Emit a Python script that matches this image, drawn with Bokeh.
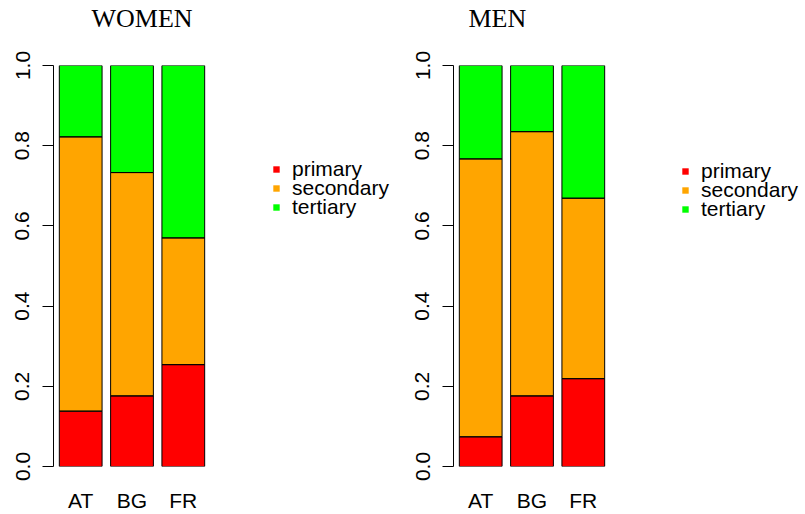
from bokeh.plotting import figure
from bokeh.models import Range1d, FixedTicker, Legend, LegendItem, NumeralTickFormatter, Title
from bokeh.layouts import row
from bokeh.embed import file_html
from bokeh.resources import INLINE

countries = ["AT", "BG", "FR"]
levels = ["primary", "secondary", "tertiary"]
colors = ["#FF0000", "#FFA500", "#00FF00"]

women_primary = [0.138, 0.176, 0.254]
women_secondary = [0.684, 0.557, 0.316]
women_tertiary = [0.178, 0.267, 0.430]

men_primary = [0.074, 0.176, 0.219]
men_secondary = [0.693, 0.659, 0.450]
men_tertiary = [0.233, 0.165, 0.331]

y_ticks = [0.0, 0.2, 0.4, 0.6, 0.8, 1.0]

BAR_W = 1.0
SPACE = 0.2
xs = [SPACE * (i + 1) + BAR_W * (i + 0.5) - SPACE for i in range(len(countries))]  # 0.5, 1.7, 2.9
PX_PER_UNIT = 157 / 3.672
X0 = -0.136
ROW_PITCH = 19


def make_panel(title, prim, sec, ter, title_offset, legend_x, legend_y0, width):
    frame_w = width - 53
    p = figure(
        x_range=Range1d(X0, X0 + frame_w / PX_PER_UNIT),
        y_range=Range1d(0, 1),
        width=width, height=514,
        min_border_left=53, min_border_right=0,
        min_border_top=65, min_border_bottom=47,
        output_backend="svg", toolbar_location=None, title=None,
    )
    src = {"x": xs, "primary": prim, "secondary": sec, "tertiary": ter}
    fills = p.vbar_stack(levels, x="x", width=BAR_W, source=src, fill_color=colors,
                         line_color=None)
    p.vbar_stack(levels, x="x", width=BAR_W, source=src, fill_color=None,
                 line_color="black", line_width=1)

    # one legend per entry so that the rows sit as close as in the reference
    for i, (lev, r) in enumerate(zip(levels, fills)):
        legend = Legend(items=[LegendItem(label=lev, renderers=[r])],
                        location=(legend_x, legend_y0 - i * ROW_PITCH),
                        glyph_width=8, glyph_height=8, label_standoff=12,
                        label_text_font="Liberation Sans", label_text_font_size="21px",
                        label_text_color="black", label_height=8,
                        spacing=0, padding=0, margin=0,
                        border_line_color=None, background_fill_alpha=0)
        p.add_layout(legend, "center")

    # empty spacer between the frame and the title
    p.add_layout(Title(text=" ", text_font_size="1px", standoff=30), "above")
    p.add_layout(Title(text=title, text_font="Liberation Serif", text_font_size="26px",
                       text_font_style="normal", text_color="black", align="left",
                       vertical_align="bottom", offset=title_offset, standoff=0), "above")

    ya = p.yaxis[0]
    ya.ticker = FixedTicker(ticks=y_ticks)
    ya.formatter = NumeralTickFormatter(format="0.0")
    ya.major_label_orientation = "vertical"
    ya.major_label_text_font = "Liberation Sans"
    ya.major_label_text_font_size = "21px"
    ya.major_label_text_color = "black"
    ya.major_tick_out = 11
    ya.major_tick_in = 0
    ya.minor_tick_line_color = None
    ya.axis_line_color = "black"
    ya.major_tick_line_color = "black"
    ya.major_label_standoff = 13

    xa = p.xaxis[0]
    xa.ticker = FixedTicker(ticks=xs)
    xa.major_label_overrides = {x: c for x, c in zip(xs, countries)}
    xa.axis_line_color = None
    xa.major_tick_line_color = None
    xa.minor_tick_line_color = None
    xa.major_tick_out = 0
    xa.major_label_standoff = 22
    xa.major_label_text_font = "Liberation Sans"
    xa.major_label_text_font_size = "21px"
    xa.major_label_text_color = "black"

    p.grid.visible = False
    p.outline_line_color = None
    p.background_fill_color = "white"
    p.border_fill_color = "white"
    return p


p1 = make_panel("WOMEN", women_primary, women_secondary, women_tertiary, 38, 219, 285, 400)
p2 = make_panel("MEN", men_primary, men_secondary, men_tertiary, 15, 228, 283, 405)

layout = row(p1, p2)
open("out.html", "w").write(file_html(layout, INLINE))
